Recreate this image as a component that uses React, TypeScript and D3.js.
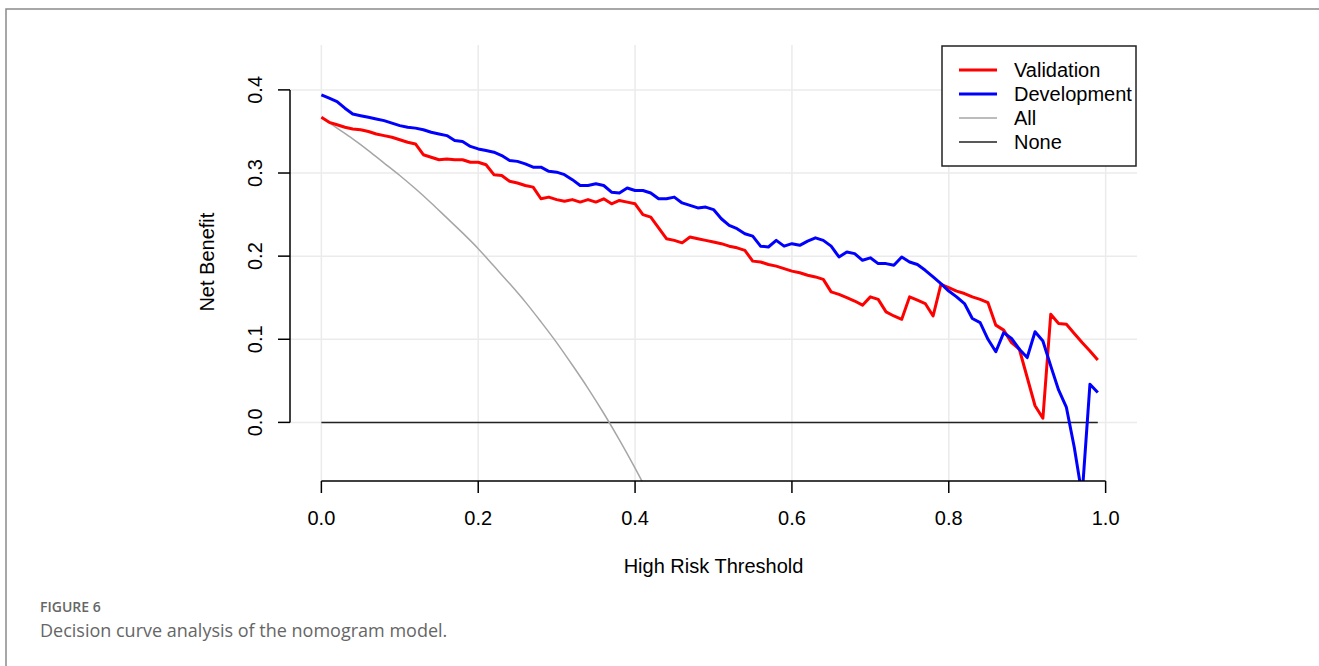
import { useRef, useEffect } from 'react';
import * as d3 from 'd3';

const W = 1319;
const H = 666;

// thresholds 0.00 .. 0.99
const thresholds = d3.range(0, 100).map(i => i / 100);

const validation = [
  0.367, 0.361, 0.358, 0.355, 0.353, 0.352, 0.350, 0.347, 0.345, 0.343,
  0.340, 0.337, 0.335, 0.322, 0.319, 0.316, 0.317, 0.316, 0.316, 0.313,
  0.313, 0.310, 0.298, 0.297, 0.290, 0.288, 0.285, 0.283, 0.269, 0.271,
  0.268, 0.266, 0.268, 0.265, 0.268, 0.265, 0.269, 0.263, 0.267, 0.265,
  0.263, 0.250, 0.247, 0.234, 0.221, 0.219, 0.216, 0.223, 0.221, 0.219,
  0.217, 0.215, 0.212, 0.210, 0.207, 0.194, 0.193, 0.190, 0.188, 0.185,
  0.182, 0.180, 0.177, 0.175, 0.172, 0.157, 0.154, 0.150, 0.146, 0.141,
  0.151, 0.148, 0.133, 0.128, 0.124, 0.151, 0.147, 0.143, 0.128, 0.166,
  0.162, 0.158, 0.155, 0.151, 0.148, 0.144, 0.117, 0.111, 0.096, 0.088,
  0.054, 0.020, 0.005, 0.130, 0.119, 0.118, 0.107, 0.096, 0.086, 0.075,
];

const development = [
  0.394, 0.390, 0.386, 0.378, 0.371, 0.369, 0.367, 0.365, 0.363, 0.360,
  0.357, 0.355, 0.354, 0.352, 0.349, 0.347, 0.345, 0.339, 0.338, 0.332,
  0.329, 0.327, 0.325, 0.321, 0.315, 0.314, 0.311, 0.307, 0.307, 0.302,
  0.301, 0.298, 0.292, 0.285, 0.285, 0.287, 0.285, 0.277, 0.276, 0.282,
  0.279, 0.279, 0.276, 0.269, 0.269, 0.271, 0.264, 0.261, 0.258, 0.259,
  0.256, 0.245, 0.237, 0.233, 0.227, 0.224, 0.212, 0.211, 0.219, 0.212,
  0.215, 0.213, 0.218, 0.222, 0.219, 0.212, 0.199, 0.205, 0.203, 0.195,
  0.198, 0.191, 0.191, 0.189, 0.199, 0.193, 0.190, 0.183, 0.175, 0.167,
  0.158, 0.151, 0.143, 0.125, 0.120, 0.100, 0.085, 0.108, 0.101, 0.088,
  0.078, 0.109, 0.098, 0.068, 0.039, 0.018, -0.030, -0.088, 0.046, 0.036,
];

// treat-all curve, read every 0.02
const allThresholds = [0, 0.02, 0.04, 0.06, 0.08, 0.10, 0.12, 0.14, 0.16, 0.18, 0.20, 0.22,
  0.24, 0.26, 0.28, 0.30, 0.32, 0.34, 0.36, 0.38, 0.40, 0.42];
const allValues = [0.367, 0.354, 0.341, 0.327, 0.312, 0.297, 0.281, 0.264, 0.246, 0.228, 0.209, 0.188,
  0.167, 0.145, 0.121, 0.096, 0.069, 0.041, 0.011, -0.021, -0.055, -0.091];

const xTicks = [0, 0.2, 0.4, 0.6, 0.8, 1.0];
const yTicks = [0, 0.1, 0.2, 0.3, 0.4];

const legendItems = [
  { label: 'Validation', color: '#ff0000', width: 3 },
  { label: 'Development', color: '#0000ff', width: 3 },
  { label: 'All', color: '#a6a6a6', width: 1.5 },
  { label: 'None', color: '#222222', width: 1.5 },
];

const FONT = '"Liberation Sans", Arial, sans-serif';
const CAPTION_FONT = '"Open Sans", "Noto Sans", sans-serif';

export default function App() {
  const svgRef = useRef<SVGSVGElement | null>(null);

  useEffect(() => {
    if (!svgRef.current) return;
    const svg = d3.select(svgRef.current);
    svg.selectAll('*').remove();

    // plot region spans usr coords with R's 4% padding
    const x = d3.scaleLinear().domain([-0.04, 1.04]).range([290, 1137]);
    const y = d3.scaleLinear().domain([-0.0705, 0.454]).range([481, 45]);

    // figure frame
    svg.append('path')
      .attr('d', `M6,${H}V9H${W}`)
      .attr('fill', 'none').attr('stroke', '#8a8a8a').attr('stroke-width', 1.5);

    // grid
    const grid = svg.append('g').attr('stroke', '#ebebeb').attr('stroke-width', 1.5);
    xTicks.forEach(t => {
      grid.append('line').attr('x1', x(t)).attr('x2', x(t)).attr('y1', y.range()[1]).attr('y2', y.range()[0]);
    });
    yTicks.forEach(t => {
      grid.append('line').attr('x1', x.range()[0]).attr('x2', x.range()[1]).attr('y1', y(t)).attr('y2', y(t));
    });

    svg.append('defs').append('clipPath').attr('id', 'plotclip')
      .append('rect')
      .attr('x', x.range()[0]).attr('y', y.range()[1])
      .attr('width', x.range()[1] - x.range()[0]).attr('height', y.range()[0] - y.range()[1]);

    const plot = svg.append('g').attr('clip-path', 'url(#plotclip)');

    // None
    plot.append('line')
      .attr('x1', x(0)).attr('x2', x(0.99)).attr('y1', y(0)).attr('y2', y(0))
      .attr('stroke', '#222').attr('stroke-width', 1.5);

    // All
    const allLine = d3.line<number>()
      .x((_, i) => x(allThresholds[i]))
      .y(d => y(d))
      .curve(d3.curveMonotoneX);
    plot.append('path').attr('d', allLine(allValues))
      .attr('fill', 'none').attr('stroke', '#a6a6a6').attr('stroke-width', 1.5);

    const line = d3.line<number>()
      .x((_, i) => x(thresholds[i]))
      .y(d => y(d));

    plot.append('path').attr('d', line(validation))
      .attr('fill', 'none').attr('stroke', '#ff0000').attr('stroke-width', 3)
      .attr('stroke-linejoin', 'round');
    plot.append('path').attr('d', line(development))
      .attr('fill', 'none').attr('stroke', '#0000ff').attr('stroke-width', 3)
      .attr('stroke-linejoin', 'round');

    // y axis
    const yAxis = svg.append('g').attr('transform', `translate(${x.range()[0]},0)`);
    yAxis.append('line').attr('x1', 0).attr('x2', 0).attr('y1', y(0)).attr('y2', y(0.4))
      .attr('stroke', '#000').attr('stroke-width', 1.5);
    yTicks.forEach(t => {
      yAxis.append('line').attr('x1', -12).attr('x2', 0).attr('y1', y(t)).attr('y2', y(t))
        .attr('stroke', '#000').attr('stroke-width', 1.5);
      yAxis.append('text')
        .attr('transform', `translate(-28,${y(t)}) rotate(-90)`)
        .attr('text-anchor', 'middle')
        .style('font-family', FONT).style('font-size', '20px').attr('fill', '#000')
        .text(d3.format('.1f')(t));
    });

    // x axis
    const xAxis = svg.append('g').attr('transform', `translate(0,${y.range()[0]})`);
    xAxis.append('line').attr('x1', x(0)).attr('x2', x(1)).attr('y1', 0).attr('y2', 0)
      .attr('stroke', '#000').attr('stroke-width', 1.5);
    xTicks.forEach(t => {
      xAxis.append('line').attr('x1', x(t)).attr('x2', x(t)).attr('y1', 0).attr('y2', 12)
        .attr('stroke', '#000').attr('stroke-width', 1.5);
      xAxis.append('text')
        .attr('x', x(t)).attr('y', 44)
        .attr('text-anchor', 'middle')
        .style('font-family', FONT).style('font-size', '20px').attr('fill', '#000')
        .text(d3.format('.1f')(t));
    });

    // axis titles
    svg.append('text')
      .attr('x', (x(0) + x(1)) / 2).attr('y', 573)
      .attr('text-anchor', 'middle')
      .style('font-family', FONT).style('font-size', '20px')
      .text('High Risk Threshold');
    svg.append('text')
      .attr('transform', `translate(214,${(y(0) + y(0.4)) / 2 + 6}) rotate(-90)`)
      .attr('text-anchor', 'middle')
      .style('font-family', FONT).style('font-size', '20px')
      .text('Net Benefit');

    // legend
    const lg = svg.append('g').attr('transform', 'translate(942,46)');
    lg.append('rect').attr('width', 194).attr('height', 120)
      .attr('fill', '#fff').attr('stroke', '#222').attr('stroke-width', 1.5);
    legendItems.forEach((d, i) => {
      const cy = 24 + i * 24;
      lg.append('line').attr('x1', 17).attr('x2', 55).attr('y1', cy).attr('y2', cy)
        .attr('stroke', d.color).attr('stroke-width', d.width);
      lg.append('text').attr('x', 72).attr('y', cy + 7)
        .style('font-family', FONT).style('font-size', '20px').attr('fill', '#000')
        .text(d.label);
    });

    // caption
    svg.append('text').attr('x', 40).attr('y', 612)
      .style('font-family', CAPTION_FONT).style('font-size', '14px')
      .style('font-weight', 600).attr('fill', '#666')
      .text('FIGURE 6');
    svg.append('text').attr('x', 40).attr('y', 637)
      .style('font-family', CAPTION_FONT).style('font-size', '18px')
      .attr('fill', '#666')
      .text('Decision curve analysis of the nomogram model.');
  }, []);

  return (
    <svg
      ref={svgRef}
      width={W}
      height={H}
      style={{ position: 'absolute', left: 0, top: 0, background: '#fff' }}
      role="img"
      aria-label="Decision curve analysis of the nomogram model"
    />
  );
}
